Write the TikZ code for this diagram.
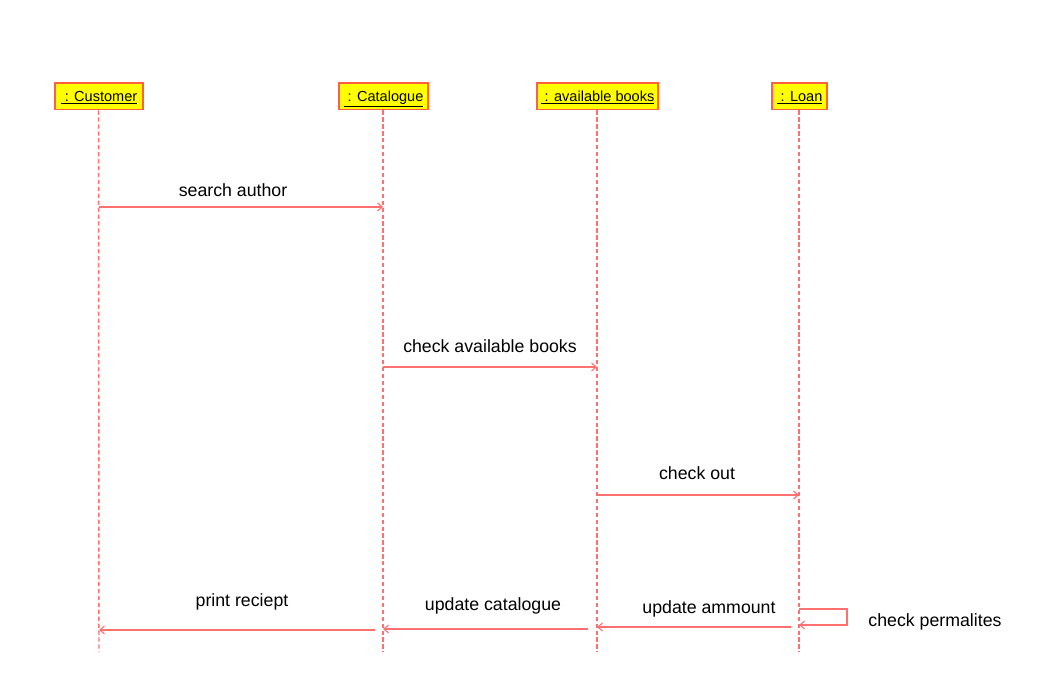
\documentclass[tikz,border=0pt]{standalone}
\usepackage{fontspec}
\setmainfont{Liberation Sans}
\usetikzlibrary{arrows.meta}
\definecolor{msgred}{HTML}{FF7070}
\definecolor{boxedge}{HTML}{FF6040}
\definecolor{boxfill}{HTML}{FFFF00}
\begin{document}
\begin{tikzpicture}[x=0.75pt,y=-0.75pt,
  objbox/.style={draw=boxedge,fill=boxfill,line width=1pt,minimum height=20pt,inner xsep=1pt,inner ysep=0pt,
    text height=10.2pt,text depth=2.6pt,font=\fontsize{10.9}{13}\selectfont},
  lifeline/.style={draw=msgred,line width=1.1pt,dash pattern=on 3.2pt off 2pt},
  msg/.style={draw=msgred,line width=0.8pt,-{Straight Barb[length=3.5pt,width=6pt]}},
  msglabel/.style={font=\fontsize{13.3}{16}\selectfont,inner sep=0pt}]
\useasboundingbox (0,0) rectangle (1041,688);
% objects
\node[objbox,minimum width=88*0.75pt] (cust) at (99,96.5) {\underline{\ : Customer}};
\node[objbox,minimum width=89*0.75pt] (cat) at (383.5,96.5) {\underline{\ : Catalogue}};
\node[objbox,minimum width=121*0.75pt] (avail) at (597.5,96.5) {\underline{\ : available books}};
\node[objbox,minimum width=55*0.75pt] (loan) at (799.5,96.5) {\underline{\ : Loan}};
% lifelines
\coordinate (custend) at (99,652);
\coordinate (catend) at (383,652);
\coordinate (availend) at (597,652);
\coordinate (loanend) at (799,652);
\draw[lifeline] (cust.south) ++(-0.5,0) coordinate (custtop) -- (custend);
\draw[lifeline] (cat.south) ++(-0.5,0) coordinate (cattop) -- (catend);
\draw[lifeline] (avail.south) ++(-0.5,0) coordinate (availtop) -- (availend);
\draw[lifeline] (loan.south) ++(-0.5,0) coordinate (loantop) -- (loanend);
% message end points
\coordinate (m1a) at (99,207);  \coordinate (m1b) at (383,207);
\coordinate (m2a) at (383,367); \coordinate (m2b) at (597,367);
\coordinate (m3a) at (597,495); \coordinate (m3b) at (799,495);
\coordinate (m4a) at (791,627); \coordinate (m4b) at (597,627);
\coordinate (m5a) at (588,629); \coordinate (m5b) at (383,629);
\coordinate (m6a) at (375,630); \coordinate (m6b) at (99,630);
\coordinate (s1) at (799,609); \coordinate (s2) at (847,609);
\coordinate (s3) at (847,625); \coordinate (s4) at (799,625);
% messages
\draw[msg] (m1a) -- (m1b);
\draw[msg] (m2a) -- (m2b);
\draw[msg] (m3a) -- (m3b);
\draw[msg] (m4a) -- (m4b);
\draw[msg] (m5a) -- (m5b);
\draw[msg] (m6a) -- (m6b);
\draw[msg] (s1) -- (s2) -- (s3) -- (s4);
% labels
\node[msglabel] (l1) at (233,190) {search author};
\node[msglabel] (l2) at (490,346) {check available books};
\node[msglabel] (l3) at (697,473) {check out};
\node[msglabel] (l4) at (709,609) {update ammount};
\node[msglabel] (l5) at (493,606) {update catalogue};
\node[msglabel] (l6) at (242,602) {print reciept};
\node[msglabel] (l7) at (935,622) {check permalites};
\end{tikzpicture}
\end{document}
